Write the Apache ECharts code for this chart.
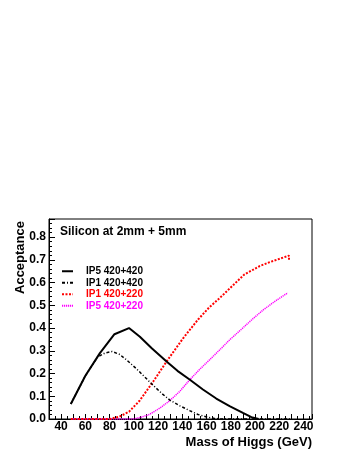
<!DOCTYPE html>
<html>
<head>
<meta charset="utf-8">
<script src="https://cdn.jsdelivr.net/npm/echarts@6/dist/echarts.min.js"></script>
<style>html,body{margin:0;padding:0;background:#fff;}#c{width:354px;height:458px;}</style>
</head>
<body>
<div id="c"></div>
<script>
// ---- data ----
var seriesNames = ['IP5 420+420', 'IP1 420+420', 'IP1 420+220', 'IP5 420+220'];

var ip5_420420_mass = [48, 60, 72, 84, 96, 105, 115, 127, 136, 146, 157, 168, 179, 190, 197, 203];
var ip5_420420_acc  = [0.066, 0.19, 0.29, 0.373, 0.40, 0.362, 0.31, 0.253, 0.212, 0.174, 0.13, 0.09, 0.057, 0.027, 0.008, 0.0];

var ip1_420420_mass = [48, 60, 70, 76, 82, 88, 94, 102, 108, 116, 124, 130, 138, 146, 153, 160, 166, 172, 230];
var ip1_420420_acc  = [0.066, 0.19, 0.272, 0.29, 0.297, 0.285, 0.26, 0.222, 0.19, 0.148, 0.108, 0.082, 0.058, 0.037, 0.02, 0.009, 0.003, 0.0, 0.0];

var ip1_420220_mass = [48, 80, 88, 96, 104.7, 112, 116, 127, 140.5, 153, 162, 171, 181, 191, 203.5, 212, 228, 228];
var ip1_420220_acc  = [0.0, 0.0, 0.01, 0.032, 0.08, 0.135, 0.165, 0.253, 0.354, 0.438, 0.49, 0.533, 0.584, 0.635, 0.672, 0.69, 0.719, 0.699];

var ip5_420220_mass = [48, 100, 106, 112, 116, 122, 129.5, 138, 146, 155, 163, 171, 179, 189, 198, 207, 217, 227];
var ip5_420220_acc  = [0.0, 0.0, 0.008, 0.018, 0.03, 0.05, 0.08, 0.122, 0.172, 0.222, 0.263, 0.305, 0.348, 0.396, 0.44, 0.481, 0.52, 0.555];

var xTicks = [40, 60, 80, 100, 120, 140, 160, 180, 200, 220, 240];
var yTicks = [0.0, 0.1, 0.2, 0.3, 0.4, 0.5, 0.6, 0.7, 0.8];

var titleText = 'Silicon at 2mm + 5mm';
var xTitle = 'Mass of Higgs (GeV)';
var yTitle = 'Acceptance';

// ---- build ----
function pairs(xs, ys) { return xs.map(function (x, i) { return [x, ys[i]]; }); }
var FONT = "'Liberation Sans', Arial, Helvetica, sans-serif";
var colors = ['#000000', '#000000', '#ff0000', '#ff00ff'];
var styles = [
  { width: 2, type: 'solid' },
  { width: 1.5, type: [3, 2, 1, 2] },
  { width: 2, type: [2, 1.5] },
  { width: 1.5, type: [1.2, 0.8] }
];
var datas = [
  pairs(ip5_420420_mass, ip5_420420_acc),
  pairs(ip1_420420_mass, ip1_420420_acc),
  pairs(ip1_420220_mass, ip1_420220_acc),
  pairs(ip5_420220_mass, ip5_420220_acc)
];

var chart = echarts.init(document.getElementById('c'), null, { renderer: 'canvas' });
chart.setOption({
  animation: false,
  backgroundColor: '#fff',
  textStyle: { fontFamily: FONT },
  title: {
    text: titleText, left: 60, top: 226, padding: 0,
    textStyle: { fontFamily: FONT, fontSize: 12, fontWeight: 'bold', color: '#000' }
  },
  legend: {
    orient: 'vertical', left: 61, top: 266, padding: 0,
    itemWidth: 11, itemHeight: 8, itemGap: 1,
    selectedMode: false,
    itemStyle: { opacity: 0, borderWidth: 0 },
    data: seriesNames.map(function (n, i) {
      return { name: n, textStyle: { color: colors[i] } };
    }),
    textStyle: { fontFamily: FONT, fontSize: 10, fontWeight: 'bold', padding: [0, 0, 0, 8], lineHeight: 10.5 }
  },
  grid: {
    left: 49, right: 42, top: 219, bottom: 39,
    show: true, borderColor: '#000', borderWidth: 1, backgroundColor: 'transparent'
  },
  xAxis: {
    type: 'value', min: 30, max: 247, interval: 10,
    axisLine: { show: true, onZero: false, lineStyle: { color: '#000', width: 1 } },
    axisTick: { show: true, inside: true, length: 5, lineStyle: { color: '#000' } },
    minorTick: { show: true, splitNumber: 2, length: 3, lineStyle: { color: '#000' } },
    splitLine: { show: false },
    axisLabel: {
      margin: 2, showMaxLabel: false, showMinLabel: false,
      fontFamily: FONT, fontSize: 12, fontWeight: 'bold', color: '#000',
      formatter: function (v) { return xTicks.indexOf(Math.round(v)) >= 0 && Math.abs(v - Math.round(v)) < 1e-6 ? String(Math.round(v)) : ''; }
    }
  },
  yAxis: {
    type: 'value', min: 0, max: 0.88, interval: 0.1,
    axisLine: { show: true, lineStyle: { color: '#000', width: 1 } },
    axisTick: { show: true, inside: true, length: 6, lineStyle: { color: '#000' } },
    minorTick: { show: true, splitNumber: 5, length: 3, lineStyle: { color: '#000' } },
    splitLine: { show: false },
    axisLabel: {
      margin: 3, showMaxLabel: false,
      fontFamily: FONT, fontSize: 12, fontWeight: 'bold', color: '#000',
      formatter: function (v) {
        for (var i = 0; i < yTicks.length; i++) if (Math.abs(v - yTicks[i]) < 1e-6) return yTicks[i].toFixed(1);
        return '';
      }
    }
  },
  series: seriesNames.map(function (n, i) {
    return {
      name: n, type: 'line', data: datas[i],
      symbol: 'none', showSymbol: false, smooth: false, z: 4 - i + 2,
      color: colors[i],
      lineStyle: { color: colors[i], width: styles[i].width, type: styles[i].type }
    };
  }),
  graphic: [
    {
      type: 'text', x: 20, y: 221, rotation: Math.PI / 2,
      style: { text: yTitle, font: "bold 13px " + FONT, fill: '#000', textAlign: 'right', textVerticalAlign: 'middle' }
    },
    {
      type: 'text', x: 312, y: 442,
      style: { text: xTitle, font: "bold 13px " + FONT, fill: '#000', textAlign: 'right', textVerticalAlign: 'middle' }
    }
  ]
});
</script>
</body>
</html>
